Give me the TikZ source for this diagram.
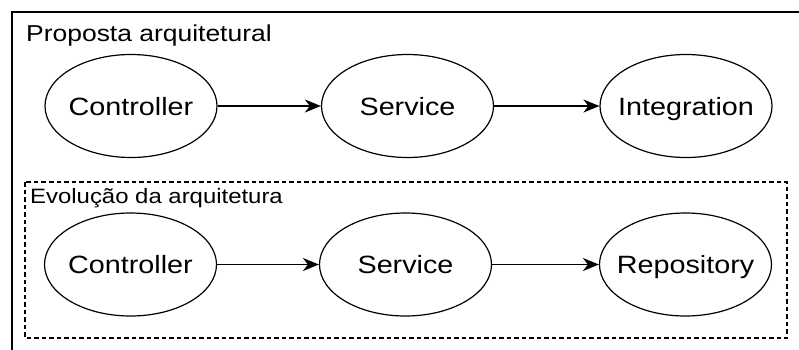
\documentclass[tikz,border=0pt]{standalone}
\usepackage{fontspec}
\setmainfont[FakeStretch=1.15]{Liberation Sans}
\usetikzlibrary{shapes.geometric,arrows.meta}
% fixed-size ellipses: the label takes no width of its own
\newcommand{\lbl}[1]{\makebox[0pt][c]{#1}}
\begin{document}
\begin{tikzpicture}[x=1pt,y=-1pt,
  comp/.style={ellipse,draw,line width=1.2pt,minimum width=172pt,minimum height=103pt,inner sep=0pt,
    text height=18pt,text depth=0pt,font=\fontsize{25}{28}\selectfont},
  flow/.style={draw,line width=1.8pt,-{Stealth[length=16pt,width=13pt,inset=5pt]}},
  title/.style={anchor=base west,inner sep=0pt,font=\fontsize{23}{26}\selectfont}]
\useasboundingbox (0,0) rectangle (799,349);
\clip (0,0) rectangle (799,349);
% outer frame
\draw[line width=1.4pt] (12,12) rectangle (812,362);
\node[title] (t1) at (26,41.5) {Proposta arquitetural};
% dashed frame
\draw[line width=1.1pt,dash pattern=on 4.5pt off 3pt] (25,182) rectangle (787,338);
\node[title,font=\fontsize{20.8}{23}\selectfont] (t2) at (30,203) {Evolução da arquitetura};
% top row
\node[comp] (c1) at (131,106) {\lbl{Controller}};
\node[comp] (s1) at (407.5,106) {\lbl{Service}};
\node[comp] (i1) at (686,106) {\lbl{Integration}};
% bottom row
\node[comp] (c2) at (130.5,264.5) {\lbl{Controller}};
\node[comp] (s2) at (405.5,264.5) {\lbl{Service}};
\node[comp] (r2) at (685.5,264.5) {\lbl{Repository}};
\draw[flow] (c1) -- (s1);
\draw[flow] (s1) -- (i1);
\draw[flow] (c2) -- (s2);
\draw[flow] (s2) -- (r2);
\end{tikzpicture}
\end{document}
